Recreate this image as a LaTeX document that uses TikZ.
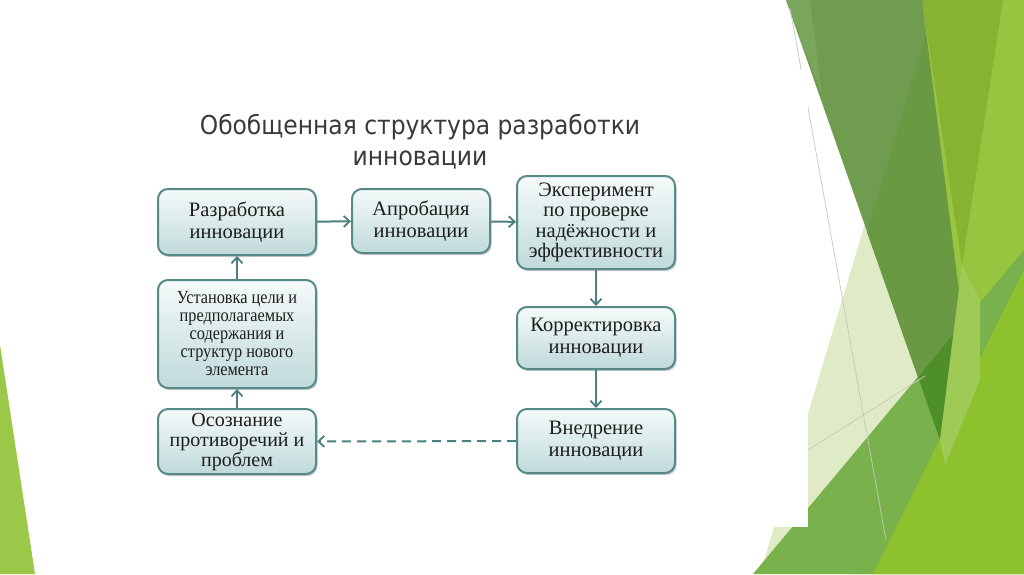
\documentclass[tikz,border=0pt]{standalone}
\usepackage{fontspec}
\setmainfont{Liberation Serif}
\newfontfamily\titlefont{DejaVu Sans Condensed}
\newfontfamily\narrowserif[FakeStretch=0.88]{Liberation Serif}
\usetikzlibrary{arrows.meta,shadows}
\definecolor{boxline}{HTML}{578989}
\definecolor{boxtop}{HTML}{F5FAFA}
\definecolor{boxbot}{HTML}{C0DADA}
\definecolor{arrowc}{HTML}{4C8080}
\definecolor{txt}{HTML}{1E1E1E}
\definecolor{titlec}{HTML}{3A3A3A}
\definecolor{gLime}{HTML}{97C53F}
\definecolor{gOlive}{HTML}{86B432}
\definecolor{gPale}{HTML}{DFEAC6}
\definecolor{gDark}{HTML}{6F9C4F}
\definecolor{gDarkL}{HTML}{79A55C}
\definecolor{gDarkT}{HTML}{699A43}
\definecolor{gMid}{HTML}{79B24C}
\definecolor{gDeep}{HTML}{4F8F2A}
\definecolor{gLimeB}{HTML}{8EC12E}
\definecolor{gLight}{HTML}{A0CA56}
\definecolor{gLeft}{HTML}{9CC84A}
\definecolor{gLine}{HTML}{C3C9BD}
\tikzset{
  box/.style={draw=boxline, line width=2pt, rounded corners=10pt,
    top color=boxtop, bottom color=boxbot,
    drop shadow={shadow xshift=1.5pt, shadow yshift=-2pt, opacity=0.3, fill=black!70},
    align=center, inner sep=2pt, text=txt,
    font=\fontsize{20.5}{22}\selectfont},
  flow/.style={draw=arrowc, line width=2pt, -{Straight Barb[length=6pt,width=11pt,line width=1.8pt]}},
  dflow/.style={flow, dash pattern=on 9pt off 6pt}
}
\begin{document}
\begin{tikzpicture}[x=1pt,y=-1pt]
\useasboundingbox (0,0) rectangle (1024,574);
\fill[white] (0,0) rectangle (1024,574);
% decoration on the right
\fill[gLime] (900,0) -- (1024,0) -- (1024,574) -- (850,574) -- cycle;
\fill[gOlive] (922,0) -- (1003,0) -- (962,265) -- cycle;
\fill[gPale] (920,40) -- (940,440) -- (870,574) -- (760,574) -- cycle;
\fill[gDark] (786,0) -- (922,0) -- (960,300) -- (940,440) -- cycle;
\fill[gDarkL] (786,0) -- (810,0) -- (822,95) -- cycle;
\fill[gDarkT] (926,35) -- (960,300) -- (940,440) -- (867,232) -- cycle;
\fill[gMid] (753,574) -- (1024,250) -- (1024,574) -- cycle;
\fill[gDeep] (918,377) -- (955,332) -- (940,440) -- cycle;
\fill[gLimeB] (873,574) -- (1024,270) -- (1024,574) -- cycle;
\fill[gLight] (962,265) -- (980,300) -- (980,380) -- (945,465) -- (940,440) -- cycle;
\draw[gLine, line width=0.7pt] (790,8) -- (886,540);
\draw[gLine, line width=0.7pt] (808,450) -- (925,376);
% left decoration
\fill[gLeft] (0,345) -- (35,574) -- (0,574) -- cycle;
% inserted picture area
\fill[white] (40,70) rectangle (808,527);
% title
\node[font=\titlefont\fontsize{26}{31}\selectfont, text=titlec, anchor=base] (t1) at (420,134) {Обобщенная структура разработки};
\node[font=\titlefont\fontsize{26}{31}\selectfont, text=titlec, anchor=base] (t2) at (420,165.5) {инновации};
% boxes
\node[box, minimum width=158pt, minimum height=66pt] (b1) at (237,222) {Разработка\\инновации};
\node[box, minimum width=138pt, minimum height=64pt] (b2) at (421,221) {Апробация\\инновации};
\node[box, minimum width=158pt, minimum height=93pt, font=\fontsize{20.5}{20.5}\selectfont] (b3) at (596,222.5) {Эксперимент\\по проверке\\надёжности и\\эффективности};
\node[box, minimum width=158pt, minimum height=108pt, font=\narrowserif\fontsize{18.5}{18}\selectfont] (b4) at (237,334) {Установка цели и\\предполагаемых\\содержания и\\структур нового\\элемента};
\node[box, minimum width=158pt, minimum height=65pt, font=\fontsize{20}{20}\selectfont] (b5) at (237,441.5) {Осознание\\противоречий и\\проблем};
\node[box, minimum width=158pt, minimum height=62pt] (b6) at (596,338) {Корректировка\\инновации};
\node[box, minimum width=158pt, minimum height=64pt] (b7) at (596,441) {Внедрение\\инновации};
% connectors
\draw[flow] (b1) -- (b2);
\draw[flow] (b2) -- (b3);
\draw[flow] (b3) -- (b6);
\draw[flow] (b6) -- (b7);
\draw[flow] (b4) -- (b1);
\draw[flow] (b5) -- (b4);
\draw[dflow] (b7) -- (b5);
\end{tikzpicture}
\end{document}
